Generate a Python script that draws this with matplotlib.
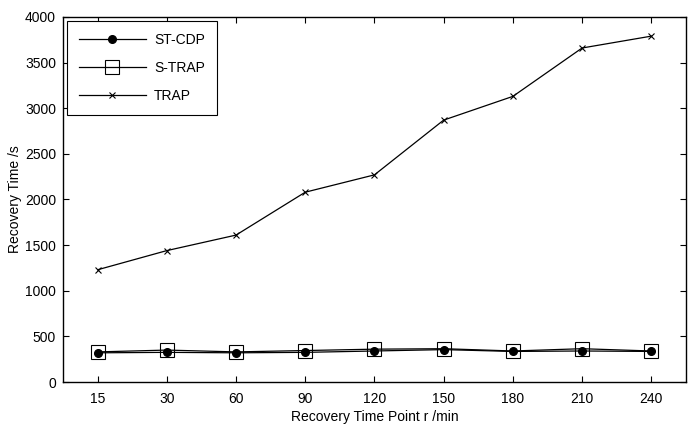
import matplotlib
matplotlib.use('Agg')
import matplotlib.pyplot as plt

plt.rcParams['font.family'] = ['Liberation Sans', 'DejaVu Sans']

time_points = ['15', '30', '60', '90', '120', '150', '180', '210', '240']
st_cdp = [320, 325, 320, 325, 340, 355, 335, 340, 335]
s_trap = [330, 350, 330, 345, 360, 365, 340, 365, 340]
trap = [1230, 1440, 1610, 2080, 2270, 2870, 3130, 3660, 3790]

fig = plt.figure(figsize=(6.96, 4.32), dpi=100)
ax = fig.add_axes([0.0905, 0.1157, 0.895, 0.845])

x = list(range(1, len(time_points) + 1))
ax.plot(x, st_cdp, '-o', color='black', lw=0.9, ms=5.5, label='ST-CDP')
ax.plot(x, s_trap, '-s', color='black', lw=0.9, ms=10, mfc='none', mew=0.8, label='S-TRAP')
ax.plot(x, trap, '-x', color='black', lw=0.9, ms=5, mew=0.8, label='TRAP')

ax.set_xlim(0.5, 9.5)
ax.set_ylim(0, 4000)
ax.set_xticks(x)
ax.set_xticklabels(time_points)
ax.set_yticks(range(0, 4001, 500))
ax.tick_params(direction='in', top=True, right=True, labelsize=10, length=4, width=0.8)
ax.tick_params(axis='x', pad=7)
ax.tick_params(axis='y', pad=5)
for s in ax.spines.values():
    s.set_linewidth(1.0)

ax.set_xlabel('Recovery Time Point r /min', fontsize=10, labelpad=3)
ax.set_ylabel('Recovery Time /s', fontsize=10, labelpad=2)

leg = ax.legend(loc='upper left', fontsize=10, fancybox=False, framealpha=1,
                edgecolor='black', borderaxespad=0.3, handlelength=4.8,
                labelspacing=1.0, borderpad=0.85, handletextpad=0.6)
leg.get_frame().set_linewidth(0.8)

fig.savefig('out.png', dpi=100)
